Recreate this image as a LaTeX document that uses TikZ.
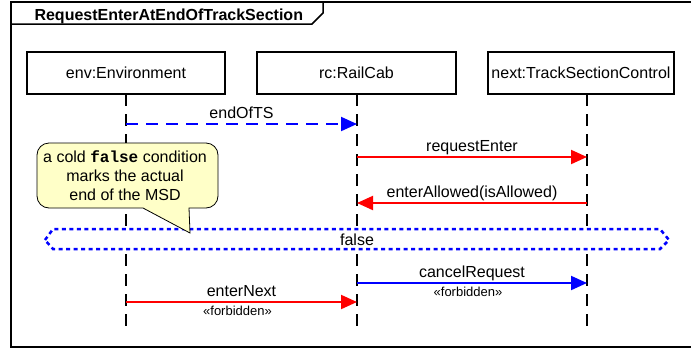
\documentclass[tikz,border=0pt]{standalone}
\usepackage{fontspec}
\setmainfont{Liberation Sans}
\newfontfamily\codefont{Liberation Mono}
\usetikzlibrary{arrows.meta}
\definecolor{notefill}{HTML}{FFFFC8}
\definecolor{msgblue}{HTML}{0000FF}
\definecolor{msgred}{HTML}{FF0000}

\begin{document}
\begin{tikzpicture}[x=1pt,y=1pt,
  font=\fontsize{16}{19}\selectfont,
  headbox/.style={draw, line width=1.2pt, minimum height=42pt, inner sep=0pt},
  lifeline/.style={line width=1.5pt, dash pattern=on 12pt off 8pt},
  tipstyle/.style={-{Triangle[length=16pt,width=14pt]}},
  redmsg/.style={msgred, line width=2pt, tipstyle},
  bluemsg/.style={msgblue, line width=2pt, tipstyle},
  asyncmsg/.style={msgblue, line width=2pt, tipstyle, dash pattern=on 12pt off 8pt},
  msglabel/.style={anchor=base, yshift=6pt, text=black},
  stereo/.style={anchor=base, yshift=-13pt, xshift=-4pt, text=black, font=\fontsize{13}{15}\selectfont}
]
\useasboundingbox (0,0) rectangle (691,-349);

% frame and its name tab
\draw[line width=2.5pt] (11,-2) rectangle (705,-347);
\draw[line width=1.5pt] (11,-24) -- (312,-24) -- (323,-13) -- (323,-2);
\node[anchor=base west, font=\bfseries\fontsize{16}{19}\selectfont] (title) at (31,-20) {RequestEnterAtEndOfTrackSection};

% lifeline heads
\node[headbox, minimum width=198pt] (env) at (126,-73) {env:Environment};
\node[headbox, minimum width=199pt] (rc) at (356.5,-73) {rc:RailCab};
\node[headbox, minimum width=186pt] (next) at (581,-73) {next:TrackSectionControl};

% lifeline ends
\coordinate (envEnd) at (126,-331);
\coordinate (rcEnd) at (357,-331);
\coordinate (nextEnd) at (587,-331);
\coordinate (envTop) at (126,-94);
\coordinate (rcTop) at (357,-94);
\coordinate (nextTop) at (587,-94);

\draw[lifeline] (envTop) -- (envEnd);
\draw[lifeline] (rcTop) -- (rcEnd);
\draw[lifeline] (nextTop) -- (nextEnd);

% message points on the lifelines
\coordinate (envA) at (126,-124);  \coordinate (rcA) at (357,-124);
\coordinate (rcB) at (357,-157);   \coordinate (nextB) at (587,-157);
\coordinate (nextC) at (587,-203); \coordinate (rcC) at (357,-203);
\coordinate (rcD) at (357,-283);   \coordinate (nextD) at (587,-283);
\coordinate (envE) at (126,-302);  \coordinate (rcE) at (357,-302);

% messages
\draw[asyncmsg] (envA) -- node[msglabel] (l1) {endOfTS} (rcA);
\draw[redmsg] (rcB) -- node[msglabel] (l2) {requestEnter} (nextB);
\draw[redmsg] (nextC) -- node[msglabel] (l3) {enterAllowed(isAllowed)} (rcC);
\draw[bluemsg] (rcD) -- node[msglabel] (l4) {cancelRequest} node[stereo] (s4) {«forbidden»} (nextD);
\draw[redmsg] (envE) -- node[msglabel] (l5) {enterNext} node[stereo] (s5) {«forbidden»} (rcE);

% cold condition across all lifelines
\draw[msgblue, line width=2.5pt, dash pattern=on 4pt off 3.5pt, fill=white]
  (45,-240) -- (53,-229) -- (660,-229) -- (669,-240) -- (660,-249) -- (53,-249) -- cycle;
\node[anchor=base] (cond) at (357,-245) {false};

% comment note with its pointer
\draw[line width=0.8pt, fill=notefill]
  (49,-143) -- (206,-143) arc[start angle=90, end angle=0, radius=12pt]
  -- (218,-196) arc[start angle=0, end angle=-90, radius=12pt]
  -- (189,-208) -- (190,-233) -- (143,-208)
  -- (49,-208) arc[start angle=270, end angle=180, radius=12pt]
  -- (37,-155) arc[start angle=180, end angle=90, radius=12pt] -- cycle;
\node[align=center] (note) at (125,-176) {a cold {\codefont\bfseries false} condition\\marks the actual\\end of the MSD};
\end{tikzpicture}
\end{document}
